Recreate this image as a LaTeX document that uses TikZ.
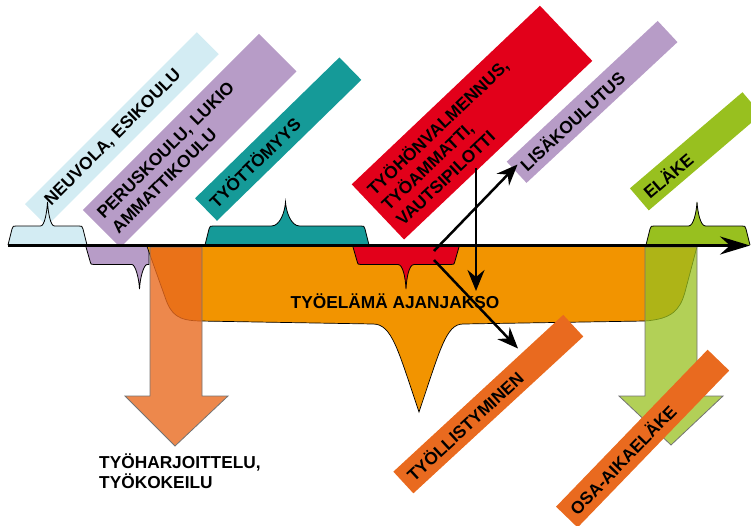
\documentclass[tikz,border=0pt]{standalone}
\usepackage{fontspec}
\setmainfont{Liberation Sans}
\usetikzlibrary{arrows.meta}
\definecolor{cBlue}{HTML}{D3ECF3}
\definecolor{cLilac}{HTML}{B79CC7}
\definecolor{cTeal}{HTML}{159A98}
\definecolor{cRed}{HTML}{E2001A}
\definecolor{cGreen}{HTML}{98C01F}
\definecolor{cOrange}{HTML}{F29400}
\definecolor{cDeep}{HTML}{E96A1F}
\newcommand\myUpBrace[5]{%
  \path[brace, fill=#5] (#1,245) -- ({#1+4},229) .. controls ({#1+5},226) .. ({#1+8},226)
    -- ({#3-#4},226) .. controls ({#3-0.4*#4},226) and ({#3-0.6},212) .. (#3,202)
    .. controls ({#3+0.6},212) and ({#3+0.4*#4},226) .. ({#3+#4},226)
    -- ({#2-8},226) .. controls ({#2-5},226) .. ({#2-4},229) -- (#2,245);}
\newcommand\myDownBrace[5]{%
  \path[brace, fill=#5] (#1,247) -- ({#1+4},261) .. controls ({#1+5},264.5) .. ({#1+8},264.5)
    -- ({#3-#4},264.5) .. controls ({#3-0.4*#4},264.5) and ({#3-0.6},277) .. (#3,289)
    .. controls ({#3+0.6},277) and ({#3+0.4*#4},264.5) .. ({#3+#4},264.5)
    -- ({#2-8},264.5) .. controls ({#2-5},264.5) .. ({#2-4},261) -- (#2,247);}
\begin{document}
\begin{tikzpicture}[x=1pt,y=-1pt,
  lbl/.style={font=\fontsize{17.3}{21}\selectfont\bfseries, text=black},
  banner/.style={lbl, align=left, inner ysep=0pt, anchor=center, outer sep=0pt},
  brace/.style={draw=black, line width=0.8pt},
  bigarrow/.style={draw=black!55, line width=0.8pt},
  flow/.style={line width=2.5pt, -{Stealth[length=21pt,width=17pt,inset=7pt]}},
  axis/.style={line width=3pt, -{Stealth[length=30pt,width=18pt,inset=10pt]}}
]
\useasboundingbox (0,0) rectangle (751,525);
\clip (0,0) rectangle (751,525);

% upper banners
\node[banner, fill=cBlue, rotate=45, minimum width=243pt, minimum height=31pt, text width=209pt, inner xsep=17pt] (bNeuvola) at (121.9,129.1) {NEUVOLA, ESIKOULU};
\node[banner, fill=cLilac, rotate=45, minimum width=249pt, minimum height=53pt, text width=233pt, inner xsep=8pt] (bPerus) at (189.7,140.7) {PERUSKOULU, LUKIO\\AMMATTIKOULU};
\node[banner, fill=cTeal, rotate=44.3, minimum width=201.7pt, minimum height=31.4pt, text width=185.7pt, inner xsep=8pt] (bTyoton) at (278.2,139.1) {TYÖTTÖMYYS};
\node[banner, fill=cRed, rotate=43.5, minimum width=259.5pt, minimum height=76pt, text width=243.5pt, inner xsep=8pt] (bValm) at (472.0,122.6) {TYÖHÖNVALMENNUS,\\TYÖAMMATTI,\\VAUTSIPILOTTI};
\node[banner, fill=cLilac, rotate=43, minimum width=206.4pt, minimum height=29pt, text width=190.4pt, inner xsep=8pt] (bLisa) at (592.1,101.9) {LISÄKOULUTUS};
\node[banner, fill=cGreen, rotate=40.5, minimum width=148pt, minimum height=29pt, text width=132pt, inner xsep=8pt] (bElake) at (695.6,151.3) {ELÄKE};

% purple bracket below the axis
\path[brace, fill=cLilac] (86,247) -- (90,261) .. controls (91,264.5) .. (94,264.5)
  -- (132,264.5) .. controls (135,264.5) and (138.9,277) .. (139.5,289)
  .. controls (140.1,277) and (144,264.5) .. (147,264.5) -- (149,264.5) -- (149,247);

% working life body
\path[fill=cOrange, draw=black, line width=0.7pt] (147,246.5) -- (165,297)
  .. controls (171,315) and (178,320.5) .. (200,321) -- (373,324)
  .. controls (392,324) and (398,350) .. (419,412)
  .. controls (440,350) and (446,324) .. (463,324) -- (645,321)
  .. controls (672,319) and (680,310) .. (685,292) -- (697,246.5) -- cycle;

% red bracket
\myDownBrace{353}{459}{406}{8}{cRed}

% big down arrows
\path[bigarrow, fill=cDeep, fill opacity=0.8] (150,247) -- (150,396) -- (125,396) -- (175,446) -- (228,396) -- (202,396) -- (202,247) -- cycle;
\path[bigarrow, fill=cGreen, fill opacity=0.75] (645,247) -- (645,396) -- (619,396) -- (671,445) -- (723,396) -- (697,396) -- (697,247) -- cycle;

% upper brackets
\myUpBrace{8}{87}{47.5}{7}{cBlue}
\myUpBrace{205}{369}{285.5}{14}{cTeal}
\myUpBrace{646}{750}{697}{8.5}{cGreen}

% time axis
\coordinate (axL) at (8,245.5);
\coordinate (axR) at (750,245.5);
\draw[axis] (axL) -- (axR);

% texts
\node[lbl, anchor=base, inner sep=0pt] (tyoelama) at (395,308) {TYÖELÄMÄ AJANJAKSO};
\node[lbl, font=\fontsize{17.3}{19.5}\selectfont\bfseries, align=left, anchor=base west, inner sep=0pt] (harj) at (99,488) {TYÖHARJOITTELU,\\TYÖKOKEILU};

% flow arrows
\coordinate (fromA) at (434,251);
\coordinate (toLisa) at (517.5,164.5);
\coordinate (fromB) at (476,168);
\coordinate (toB) at (476,291);
\coordinate (fromC) at (434,260);
\coordinate (toC) at (518,348.5);
\draw[flow] (fromA) -- (toLisa);
\draw[flow] (fromB) -- (toB);
\draw[flow] (fromC) -- (toC);

% lower banners
\node[banner, fill=cDeep, rotate=42.7, minimum width=231.2pt, minimum height=29.5pt, text width=215.2pt, inner xsep=8pt] (bTyoll) at (488.3,404.1) {TYÖLLISTYMINEN};
\node[banner, fill=cDeep, rotate=46, minimum width=218.2pt, minimum height=30pt, text width=202.2pt, inner xsep=8pt] (bOsa) at (642.6,438.6) {OSA-AIKAELÄKE};
\end{tikzpicture}
\end{document}
